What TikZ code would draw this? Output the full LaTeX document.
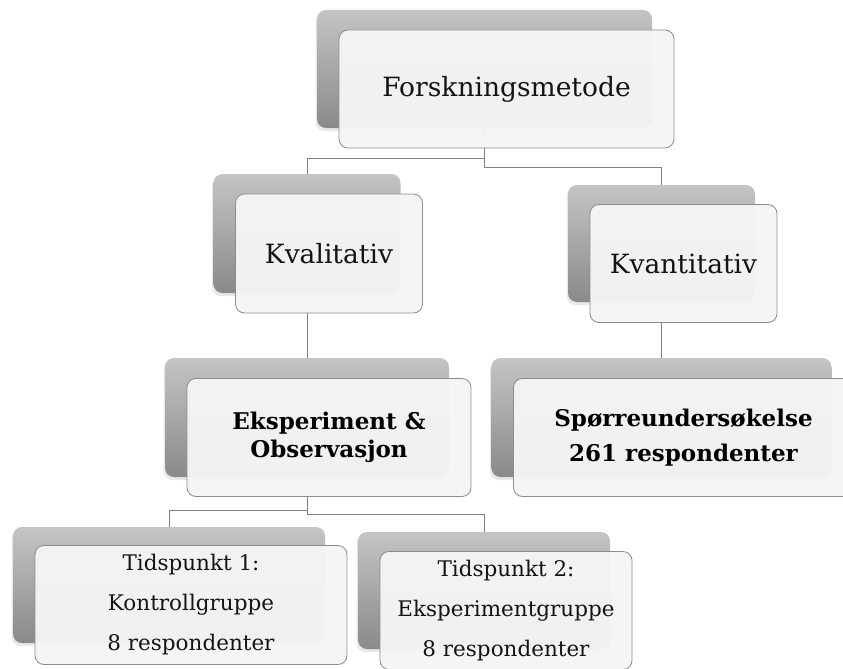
\documentclass[tikz,border=0pt]{standalone}
\usepackage{fontspec}
\setmainfont{DejaVu Serif}
\usepackage{xcolor}
\usetikzlibrary{positioning,shadows,backgrounds}

\begin{document}
\begin{tikzpicture}[x=1pt, y=-1pt,
  backbox/.style={rounded corners=9pt, top color=black!23, bottom color=black!46, draw=none, inner sep=0pt,
    drop shadow={opacity=0.18, shadow xshift=-1.5pt, shadow yshift=-3pt}},
  frontbox/.style={rounded corners=9pt, draw=black!45, line width=0.8pt, fill=black!4, fill opacity=0.96,
    text opacity=1, text=black!92, align=center, inner sep=2pt, xshift=22pt, yshift=-20pt},
  link/.style={draw=black!50, line width=0.9pt},
  bigtext/.style={font=\fontsize{26.5}{30}\selectfont},
  boldtext/.style={font=\bfseries\fontsize{23}{28}\selectfont, text=black},
  smalltext/.style={font=\fontsize{21.5}{40}\selectfont}
]
\useasboundingbox (0,0) rectangle (843,669);

% Top level
\node[backbox, minimum width=335pt, minimum height=118pt] (methodback) at (484.5,69) {};
\node[frontbox, bigtext, minimum width=335pt, minimum height=118pt] (method) at (methodback) {Forskningsmetode};

% Second level
\node[backbox, minimum width=187pt, minimum height=119pt] (kvalback) at (307,233.5) {};
\node[frontbox, bigtext, minimum width=187pt, minimum height=119pt] (kval) at (kvalback) {Kvalitativ};
\node[backbox, minimum width=187pt, minimum height=117pt] (kvantback) at (661.5,243.5) {};
\node[frontbox, bigtext, minimum width=187pt, minimum height=118pt] (kvant) at (kvantback) {Kvantitativ};

% Third level
\node[backbox, minimum width=284pt, minimum height=119pt] (eksback) at (307,417.5) {};
\node[frontbox, boldtext, minimum width=284pt, minimum height=118pt] (eks) at (eksback) {Eksperiment \&\\Observasjon};
\node[backbox, minimum width=340pt, minimum height=119pt] (sporback) at (661.5,417.5) {};
\node[frontbox, boldtext, font=\bfseries\fontsize{23}{35}\selectfont, minimum width=340pt, minimum height=118pt] (spor) at (sporback) {Spørreundersøkelse\\261 respondenter};

% Fourth level
\node[backbox, minimum width=312pt, minimum height=116pt] (t1back) at (169,585) {};
\node[frontbox, smalltext, minimum width=312pt, minimum height=119pt] (t1) at (t1back) {Tidspunkt 1:\\Kontrollgruppe\\8 respondenter};
\node[backbox, minimum width=252pt, minimum height=117pt] (t2back) at (484,590.5) {};
\node[frontbox, smalltext, minimum width=252pt, minimum height=118pt] (t2) at (t2back) {Tidspunkt 2:\\Eksperimentgruppe\\8 respondenter};

% Connectors
\begin{scope}[on background layer]
\draw[link] (methodback.south) -- ++(0,30) -| (kvalback.north);
\draw[link] (methodback.south) -- ++(0,39) -| (kvantback.north);
\draw[link] (kvalback.south) -- (kvalback.south |- eksback.north);
\draw[link] (kvantback.south) -- (kvantback.south |- sporback.north);
\draw[link] (eksback.south) -- ++(0,33) -| (t1back.north);
\draw[link] (eksback.south) -- ++(0,37) -| (t2back.north);
\end{scope}
\end{tikzpicture}
\end{document}
